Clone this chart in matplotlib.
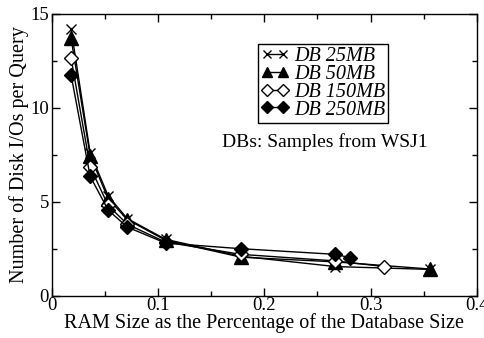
import matplotlib
matplotlib.use('Agg')
import matplotlib.pyplot as plt
from matplotlib.ticker import MultipleLocator

# RAM size as fraction of the database size
x_25 = [0.018, 0.036, 0.053, 0.071, 0.107, 0.178, 0.267, 0.356]
x_50 = [0.018, 0.036, 0.053, 0.071, 0.107, 0.178, 0.267, 0.356]
x_150 = [0.018, 0.036, 0.053, 0.071, 0.107, 0.178, 0.267, 0.313]
x_250 = [0.018, 0.036, 0.053, 0.071, 0.107, 0.178, 0.267, 0.281]

# disk I/Os per query
io_25 = [14.2, 7.6, 5.3, 4.1, 3.0, 2.1, 1.55, 1.4]
io_50 = [13.7, 7.45, 5.15, 4.05, 2.95, 2.05, 1.8, 1.42]
io_150 = [12.65, 6.85, 4.8, 3.8, 2.85, 2.2, 1.85, 1.55]
io_250 = [11.75, 6.35, 4.55, 3.65, 2.8, 2.5, 2.2, 2.02]

labels = ['DB 25MB', 'DB 50MB', 'DB 150MB', 'DB 250MB']

plt.rcParams['font.family'] = ['Liberation Serif', 'DejaVu Serif']

fig = plt.figure(figsize=(4.85, 3.38), dpi=100)
ax = fig.add_axes([0.107, 0.125, 0.876, 0.835])

ax.plot(x_25, io_25, color='black', lw=1, marker='x', ms=7.5, mew=1,
        label=labels[0])
ax.plot(x_50, io_50, color='black', lw=1, marker='^', ms=9.5,
        mfc='black', label=labels[1])
ax.plot(x_150, io_150, color='black', lw=1, marker='D', ms=7.5,
        mfc='white', mew=1, label=labels[2])
ax.plot(x_250, io_250, color='black', lw=1, marker='D', ms=7.5,
        mfc='black', label=labels[3])

ax.set_xlim(0, 0.4)
ax.set_ylim(0, 15)
ax.set_xticks([0, 0.1, 0.2, 0.3, 0.4])
ax.set_xticklabels(['0', '0.1', '0.2', '0.3', '0.4'])
ax.xaxis.set_minor_locator(MultipleLocator(0.05))
ax.yaxis.set_major_locator(MultipleLocator(5))
ax.yaxis.set_minor_locator(MultipleLocator(2.5))
ax.tick_params(which='both', direction='in', top=True, right=True,
               labelsize=13.5, width=1)
ax.tick_params(which='major', length=6)
ax.tick_params(which='minor', length=3.5)
ax.tick_params(axis='x', pad=1)
ax.tick_params(axis='y', pad=2)
for s in ax.spines.values():
    s.set_linewidth(1)

ax.set_xlabel('RAM Size as the Percentage of the Database Size',
              fontsize=14.5, labelpad=-1)
ax.set_ylabel('Number of Disk I/Os per Query', fontsize=14.5, labelpad=1)

leg = ax.legend(loc='upper left', bbox_to_anchor=(0.485, 0.893),
                prop={'style': 'italic', 'size': 14.5}, numpoints=2,
                markerscale=0.8, handlelength=1.4, handletextpad=0.25,
                labelspacing=-0.06, borderpad=0.15, borderaxespad=0,
                fancybox=False, framealpha=1)
leg.get_frame().set_edgecolor('black')
leg.get_frame().set_linewidth(1)

ax.text(0.4, 0.545, 'DBs: Samples from WSJ1', transform=ax.transAxes,
        fontsize=14, ha='left', va='center')

fig.savefig('out.png', dpi=100)
